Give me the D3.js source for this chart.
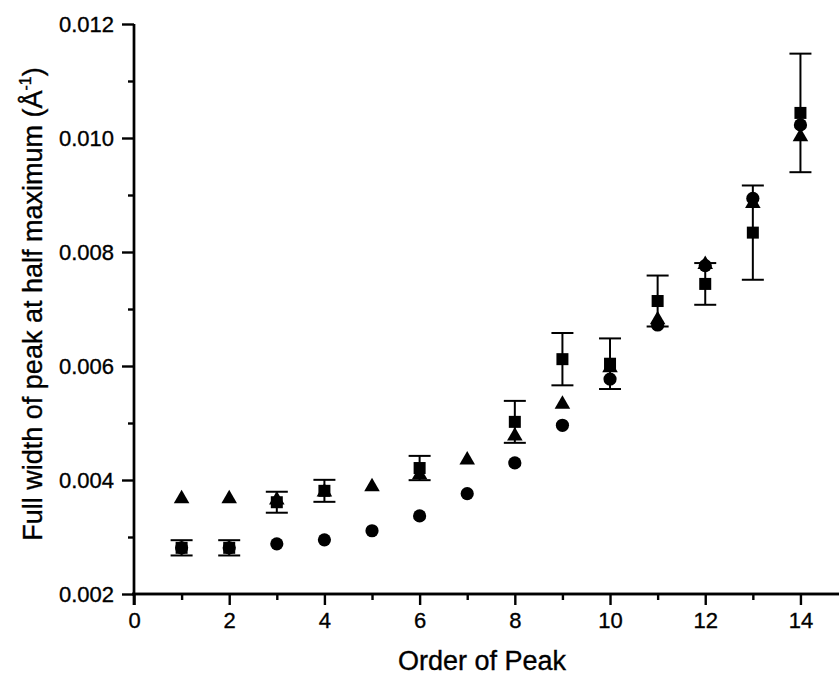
<!DOCTYPE html>
<html>
<head>
<meta charset="utf-8">
<script src="https://cdn.jsdelivr.net/npm/d3@7/dist/d3.min.js"></script>
<style>
  html, body { margin: 0; padding: 0; background: #fff; }
  svg text { font-family: "Liberation Sans", Arial, Helvetica, sans-serif; fill: #000; stroke: #000; stroke-width: 0.35px; }
</style>
</head>
<body>
<svg id="chart" width="839" height="678"></svg>
<script>
// Peak order (x) for each series
const circleOrders   = [1, 2, 3, 4, 5, 6, 7, 8, 9, 10, 11, 12, 13, 14];
const circleWidths   = [0.00281, 0.00281, 0.00288, 0.00295, 0.00311, 0.00337, 0.00376, 0.00430, 0.00496, 0.00577, 0.00672, 0.00776, 0.00894, 0.01023];

const triangleOrders = [1, 2, 3, 4, 5, 6, 7, 8, 9, 10, 11, 12, 13, 14];
const triangleWidths = [0.00367, 0.00367, 0.00365, 0.00379, 0.00388, 0.00409, 0.00435, 0.00477, 0.00533, 0.00597, 0.00681, 0.00778, 0.00885, 0.01002];

const squareOrders   = [1, 2, 3, 4, 6, 8, 9, 10, 11, 12, 13, 14];
const squareWidths   = [0.00281, 0.00281, 0.00361, 0.00381, 0.00421, 0.00502, 0.00612, 0.00604, 0.00714, 0.00744, 0.00834, 0.01044];
const squareErrors   = [0.000134, 0.000134, 0.000184, 0.000193, 0.000213, 0.000368, 0.000459, 0.000444, 0.000447, 0.000366, 0.000827, 0.00104];

const xMajorTicks = [0, 2, 4, 6, 8, 10, 12, 14];
const xMinorTicks = [1, 3, 5, 7, 9, 11, 13];
const yMajorTicks = [0.002, 0.004, 0.006, 0.008, 0.010, 0.012];
const yMinorTicks = [0.003, 0.005, 0.007, 0.009, 0.011];

const xTitle = "Order of Peak";
const yTitle = "Full width of peak at half maximum (Å";

const svg = d3.select("#chart");
const plotLeft = 134, plotRight = 839, plotTop = 24, plotBottom = 594;

const x = d3.scaleLinear().domain([0, 14.81]).range([plotLeft, plotRight]);
const y = d3.scaleLinear().domain([0.002, 0.012]).range([plotBottom, plotTop]);

// axes
const axisStroke = 2.4;
const xAxis = svg.append("g").attr("transform", `translate(0,${plotBottom})`);
xAxis.call(d3.axisBottom(x).tickValues(xMajorTicks).tickSize(11).tickPadding(7).tickFormat(d3.format("d")));
xAxis.append("g").call(d3.axisBottom(x).tickValues(xMinorTicks).tickSize(6).tickFormat(""));
xAxis.selectAll(".domain").attr("d", `M${plotLeft - 2},0H${plotRight}`);

const yAxis = svg.append("g").attr("transform", `translate(${plotLeft},0)`);
yAxis.call(d3.axisLeft(y).tickValues(yMajorTicks).tickSize(12).tickPadding(8).tickFormat(d3.format(".3f")));
yAxis.append("g").call(d3.axisLeft(y).tickValues(yMinorTicks).tickSize(6).tickFormat(""));
yAxis.selectAll(".domain").attr("d", `M0,${plotTop}V${plotBottom + 11}`);

svg.selectAll(".domain, .tick line")
  .attr("stroke", "#000").attr("stroke-width", axisStroke);
svg.selectAll(".tick text")
  .attr("font-size", 22).attr("fill", "#000")
  .attr("font-family", "'Liberation Sans', Arial, sans-serif");

// axis titles
svg.append("text")
  .attr("x", 482).attr("y", 670)
  .attr("text-anchor", "middle")
  .attr("font-size", 27)
  .text(xTitle);

const yt = svg.append("text")
  .attr("transform", "translate(42,304) rotate(-90)")
  .attr("text-anchor", "middle")
  .attr("font-size", 27);
yt.append("tspan").text(yTitle);
yt.append("tspan").attr("font-size", 16).attr("dy", -11).text("-1");
yt.append("tspan").attr("dy", 11).text(")");

const plot = svg.append("g");

// circles
plot.selectAll("circle.pt")
  .data(circleOrders.map((o, i) => [o, circleWidths[i]]))
  .join("circle")
  .attr("class", "pt")
  .attr("cx", d => x(d[0])).attr("cy", d => y(d[1]))
  .attr("r", 6.6).attr("fill", "#000");

// triangles
const tri = d3.symbol().type(d3.symbolTriangle).size(105);
plot.selectAll("path.tri")
  .data(triangleOrders.map((o, i) => [o, triangleWidths[i]]))
  .join("path")
  .attr("class", "tri")
  .attr("transform", d => `translate(${x(d[0])},${y(d[1])})`)
  .attr("d", tri).attr("fill", "#000");

// squares with error bars
const sq = squareOrders.map((o, i) => ({ o, v: squareWidths[i], e: squareErrors[i] }));
plot.selectAll("rect.sq")
  .data(sq)
  .join("rect")
  .attr("class", "sq")
  .attr("x", d => x(d.o) - 6).attr("y", d => y(d.v) - 6)
  .attr("width", 12).attr("height", 12).attr("fill", "#000");

const cap = 11;
const eb = plot.selectAll("g.err").data(sq).join("g").attr("class", "err")
  .attr("stroke", "#000").attr("stroke-width", 2);
eb.append("line")
  .attr("x1", d => x(d.o)).attr("x2", d => x(d.o))
  .attr("y1", d => y(d.v + d.e)).attr("y2", d => y(d.v - d.e));
eb.append("line")
  .attr("x1", d => x(d.o) - cap).attr("x2", d => x(d.o) + cap)
  .attr("y1", d => y(d.v + d.e)).attr("y2", d => y(d.v + d.e));
eb.append("line")
  .attr("x1", d => x(d.o) - cap).attr("x2", d => x(d.o) + cap)
  .attr("y1", d => y(d.v - d.e)).attr("y2", d => y(d.v - d.e));
</script>
</body>
</html>
